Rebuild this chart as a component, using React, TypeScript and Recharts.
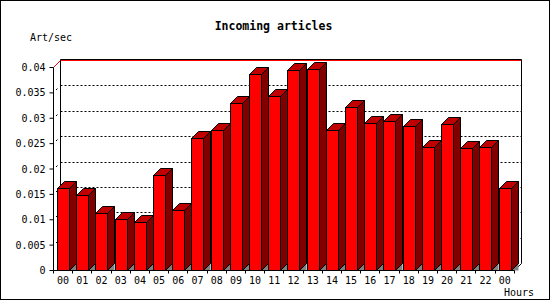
import React from 'react';
import { Bar, BarChart, CartesianGrid, ReferenceArea, XAxis, YAxis } from 'recharts';

// hourly incoming article rate (articles per second)
const hours = ['00', '01', '02', '03', '04', '05', '06', '07', '08', '09', '10', '11',
    '12', '13', '14', '15', '16', '17', '18', '19', '20', '21', '22', '00'];
const artPerSec = [0.0161, 0.0147, 0.0112, 0.0100, 0.0094, 0.0187, 0.0118, 0.0261,
    0.0275, 0.0330, 0.0386, 0.0342, 0.0395, 0.0397, 0.0275, 0.0321,
    0.0289, 0.0293, 0.0283, 0.0242, 0.0287, 0.0240, 0.0242, 0.0161];
const yTicks = [0, 0.005, 0.01, 0.015, 0.02, 0.025, 0.03, 0.035, 0.04];

const data = hours.map((hour, i) => ({ hour, rate: artPerSec[i] }));

const FONT = '"DejaVu Sans Mono", "Liberation Mono", monospace';
const DX = 7;
const DY = 7;
const snap = (v: number) => Math.round(v - 0.5) + 0.5;

const Bar3D = (props: any) => {
    const { x, y, width, height } = props;
    const l = snap(x);
    const t = snap(y);
    const r = l + Math.round(width);
    const b = snap(y + height);
    return (
        <g stroke="#000" strokeWidth={1}>
            <polygon points={`${r},${b} ${r + DX},${b - DY} ${r + DX},${b}`} fill="#808080" stroke="none" />
            <polygon points={`${l},${t} ${l + DX},${t - DY} ${r + DX},${t - DY} ${r},${t}`} fill="#c00000" />
            <polygon points={`${r},${t} ${r + DX},${t - DY} ${r + DX},${b - DY} ${r},${b}`} fill="#800000" />
            <rect x={l} y={t} width={r - l} height={b - t} fill="#ff0000" />
        </g>
    );
};

// grid lines sit on the back wall, shifted by the 3D depth
const gridLine = (p: any) => {
    const { x1, x2, y1, y, height } = p;
    if (Math.abs(y1 - (y + height)) < 0.5) return <g key={p.key} />;
    const top = Math.abs(y1 - y) < 0.5;
    const xx = snap(x1);
    const yy = snap(y1);
    if (top) {
        return (
            <path
                key={p.key}
                d={`M${xx},${yy} L${xx + DX},${yy - DY} L${snap(x2) + DX},${yy - DY}`}
                fill="none"
                stroke="#ff0000"
            />
        );
    }
    return (
        <g key={p.key} fill="none" stroke="#000">
            <path d={`M${xx + DX},${yy - DY} L${snap(x2) + DX},${yy - DY}`} strokeDasharray="2 2" />
            <path d={`M${xx + 2.5},${yy - 2.5} L${xx + 4},${yy - 4}`} />
        </g>
    );
};

const BackPlane = (p: any) => {
    const { x, y, width, height } = p;
    const l = snap(x) + DX;
    const r = snap(x + width) + DX;
    const t = snap(y) - DY - 1;
    const b = snap(y + height) - DY;
    return (
        <g fill="none" stroke="#000">
            <path d={`M${l},${b} L${l},${t} L${r},${t} L${r},${b}`} />
            <path d={`M${r - DX},${b + DY} L${r},${b}`} />
        </g>
    );
};

const HourTick = (p: any) => {
    const { x, y, payload, index } = p;
    const half = payload.offset || 9.6;
    const left = snap(x - half);
    const right = snap(x + half);
    return (
        <g>
            <line x1={left} y1={y} x2={left} y2={y + 3} stroke="#000" />
            {index === hours.length - 1 && <line x1={right} y1={y} x2={right} y2={y + 3} stroke="#000" />}
            <text x={x} y={y + 13} textAnchor="middle" fontSize={10} fontFamily={FONT} fill="#000">
                {payload.value}
            </text>
        </g>
    );
};

export default function App() {
    return (
        <div style={{ position: 'relative', width: 550, height: 300, background: '#fff' }}>
            <style>{'body{margin:0}'}</style>
            <BarChart
                width={550}
                height={300}
                data={data}
                margin={{ top: 67.5, right: 35.7, bottom: 0, left: 0.5 }}
            >
                <CartesianGrid vertical={false} horizontal={gridLine} zIndex={-100} />
                <ReferenceArea y1={0} y2={0.04} shape={BackPlane} zIndex={-90} ifOverflow="visible" />
                <XAxis
                    dataKey="hour"
                    height={29.5}
                    interval={0}
                    tickLine={false}
                    tickSize={0}
                    tickMargin={0}
                    axisLine={{ stroke: '#000' }}
                    tick={<HourTick />}
                />
                <YAxis
                    width={53}
                    domain={[0, 0.04]}
                    ticks={yTicks}
                    interval={0}
                    tickSize={4}
                    tickMargin={4}
                    axisLine={{ stroke: '#000' }}
                    tickLine={{ stroke: '#000' }}
                    tick={{ fill: '#000', fontSize: 10, fontFamily: FONT }}
                />
                <Bar dataKey="rate" barSize={12} shape={<Bar3D />} isAnimationActive={false} />
            </BarChart>
            <svg
                width={550}
                height={300}
                style={{ position: 'absolute', left: 0, top: 0, pointerEvents: 'none' }}
            >
                <text x={273.5} y={30} textAnchor="middle" fontSize={11.5} fontWeight="bold" fontFamily={FONT}>
                    Incoming articles
                </text>
                <text x={30} y={41} fontSize={10} fontFamily={FONT}>Art/sec</text>
                <text x={504} y={295.5} fontSize={10} fontFamily={FONT}>Hours</text>
                <rect x={0.5} y={0.5} width={549} height={299} fill="none" stroke="#000" />
            </svg>
        </div>
    );
}
